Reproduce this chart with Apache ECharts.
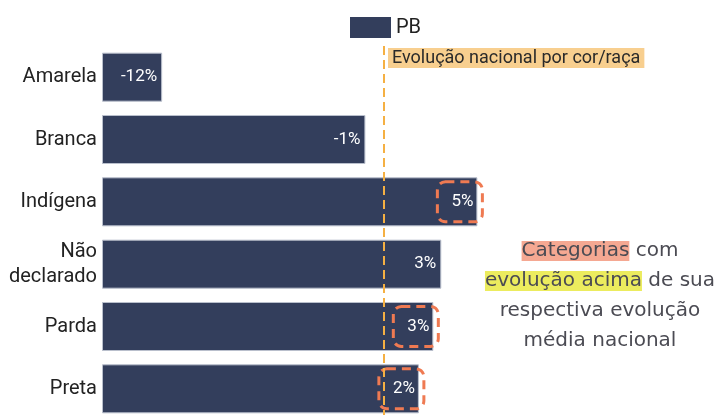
<!DOCTYPE html>
<html>
<head>
<meta charset="utf-8">
<script src="https://cdn.jsdelivr.net/npm/echarts@6/dist/echarts.min.js"></script>
<style>html,body{margin:0;padding:0;background:#fff;}#c{width:719px;height:415px;}</style>
</head>
<body>
<div id="c"></div>
<script>
const categories = ['Amarela', 'Branca', 'Indígena', 'Não\ndeclarado', 'Parda', 'Preta'];
const seriesName = 'PB';
const values = [-11.95, -0.97, 5.08, 3.13, 2.70, 1.92];
const highlighted = [false, false, true, false, true, true];
const nationalValue = 0;
const nationalLabel = 'Evolução nacional por cor/raça';
const axisMin = -15.2;
const axisMax = 15;

const chart = echarts.init(document.getElementById('c'), null, {renderer: 'canvas'});

const barData = values.map((v, i) => {
  const d = {value: v};
  if (highlighted[i]) {
    d.label = {
      borderType: [9, 6],
      borderColor: '#ef7a52',
      borderWidth: 3,
      borderRadius: 8,
      padding: [12, 9, 11, 14],
      offset: [10, 0]
    };
  }
  return d;
});

chart.setOption({
  animation: false,
  backgroundColor: '#ffffff',
  textStyle: {fontFamily: 'Roboto'},
  legend: {
    data: [seriesName],
    left: 345, top: 12,
    itemWidth: 41, itemHeight: 21, itemGap: 8,
    icon: 'rect',
    itemStyle: {borderWidth: 0},
    textStyle: {fontSize: 20, color: '#222', fontFamily: 'Roboto'}
  },
  grid: {left: 102, top: 46, right: 58, height: 374, containLabel: false, outerBoundsMode: 'none'},
  xAxis: {
    type: 'value', min: axisMin, max: axisMax, startValue: axisMin, show: false
  },
  yAxis: {
    type: 'category', data: categories, inverse: true,
    axisLine: {show: false}, axisTick: {show: false}, splitLine: {show: false},
    axisLabel: {fontSize: 20, color: '#222', margin: 5, lineHeight: 25, fontFamily: 'Roboto'}
  },
  series: [{
    name: seriesName,
    type: 'bar',
    data: barData,
    barWidth: 49,
    itemStyle: {color: '#333e5c', borderColor: '#b9bfcc', borderWidth: 1},
    label: {
      show: true, position: 'insideRight', distance: 5,
      color: '#ffffff', fontSize: 17, fontFamily: 'Roboto',
      formatter: p => Math.round(p.value) + '%'
    },
    markLine: {
      silent: true, symbol: 'none', z: 10,
      lineStyle: {color: '#f5b043', type: [9, 5], width: 2},
      label: {show: false},
      data: [{xAxis: nationalValue}]
    }
  }],
  graphic: [
    {
      type: 'text', left: 388, top: 48, z: 100,
      style: {
        text: nationalLabel, fill: '#2a2a2a', font: '18px Roboto',
        backgroundColor: '#f8cf8f', padding: [1, 4, 1, 4]
      }
    },
    {
      type: 'text', x: 600, y: 236, z: 100,
      style: {
        text: '{a|Categorias} com\n{b|evolução acima} de sua\nrespectiva evolução\nmédia nacional',
        fill: '#4b4b53', font: '20px "DejaVu Sans"', align: 'center', verticalAlign: 'top',
        lineHeight: 30,
        rich: {
          a: {backgroundColor: '#f5a892', fill: '#4b4b53', font: '20px "DejaVu Sans"', lineHeight: 30},
          b: {backgroundColor: '#ecec5e', fill: '#4b4b53', font: '20px "DejaVu Sans"', lineHeight: 30}
        }
      }
    }
  ]
});
</script>
</body>
</html>
